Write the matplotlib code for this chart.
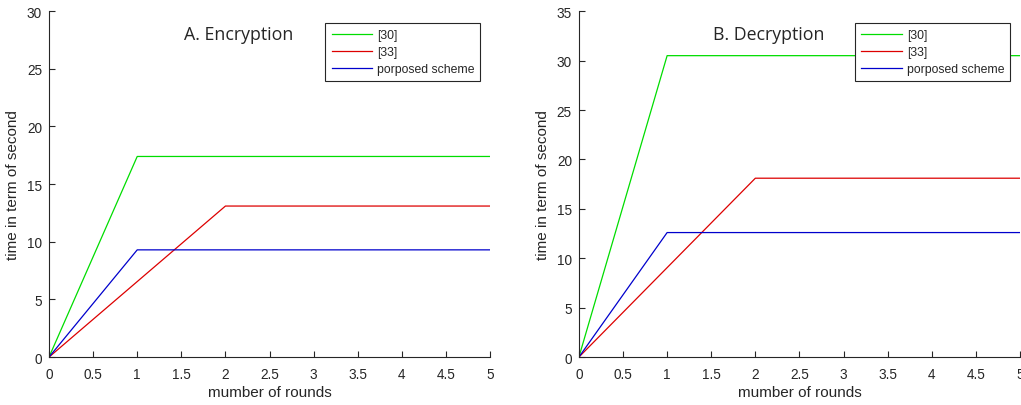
import matplotlib
matplotlib.use("Agg")
import matplotlib.pyplot as plt

rounds = [0, 1, 2, 3, 4, 5]
enc_30 = [0, 17.4, 17.4, 17.4, 17.4, 17.4]
enc_33 = [0, 6.55, 13.1, 13.1, 13.1, 13.1]
enc_prop = [0, 9.3, 9.3, 9.3, 9.3, 9.3]
dec_30 = [0, 30.5, 30.5, 30.5, 30.5, 30.5]
dec_33 = [0, 9.05, 18.1, 18.1, 18.1, 18.1]
dec_prop = [0, 12.6, 12.6, 12.6, 12.6, 12.6]
labels = ["[30]", "[33]", "porposed scheme"]
titles = ["A. Encryption", "B. Decryption"]
ylims = [30, 35]
xticks = [0, 0.5, 1, 1.5, 2, 2.5, 3, 3.5, 4, 4.5, 5]
xticklabels = ["0", "0.5", "1", "1.5", "2", "2.5", "3", "3.5", "4", "4.5", "5"]

plt.rcParams['font.family'] = ['Liberation Sans', 'DejaVu Sans']
fig = plt.figure(figsize=(10.21, 4.06), dpi=100)
gray = '#262626'
colors = ['#00dd00', '#dd0000', '#0000cc']

axes_pos = [[0.048, 0.118, 0.432, 0.852], [0.567, 0.118, 0.432, 0.852]]
data = [(enc_30, enc_33, enc_prop), (dec_30, dec_33, dec_prop)]
for i in range(2):
    ax = fig.add_axes(axes_pos[i])
    for s, c, l in zip(data[i], colors, labels):
        ax.plot(rounds, s, color=c, lw=0.9, label=l)
    ax.set_xlim(0, 5)
    ax.set_ylim(0, ylims[i])
    ax.set_xticks(xticks)
    ax.set_xticklabels(xticklabels)
    ax.set_yticks(list(range(0, ylims[i] + 1, 5)))
    for sp in ['top', 'right']:
        ax.spines[sp].set_visible(False)
    for sp in ['left', 'bottom']:
        ax.spines[sp].set_color(gray)
        ax.spines[sp].set_linewidth(0.8)
    ax.tick_params(direction='in', length=4, width=0.8, colors=gray, labelsize=9.8)
    ax.tick_params(axis='x', pad=7)
    ax.tick_params(axis='y', pad=5)
    ax.set_xlabel("mumber of rounds", fontsize=11, color=gray, labelpad=3)
    ax.set_ylabel("time in term of second", fontsize=11, color=gray, labelpad=5)
    ax.text(0.43, 0.935, titles[i], transform=ax.transAxes, ha='center', va='center',
            fontsize=12.8, color=gray, family=['Open Sans', 'DejaVu Sans'])
    leg = ax.legend(loc='upper right', bbox_to_anchor=(0.978, 0.965), fontsize=8.8,
                    frameon=True, fancybox=False, edgecolor=gray, handlelength=3.3,
                    handletextpad=0.4, borderpad=0.5, labelspacing=0.4, framealpha=1,
                    borderaxespad=0)
    leg.get_frame().set_linewidth(0.8)
    for t in leg.get_texts():
        t.set_color(gray)

fig.savefig("out.png", dpi=100, facecolor='white')
